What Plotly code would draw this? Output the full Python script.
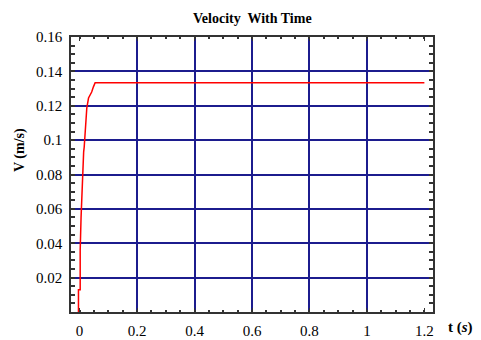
import plotly.graph_objects as go

# Data
t_vals = [-0.004, -0.004, 0.002, 0.002, 0.005, 0.008, 0.011, 0.014, 0.016, 0.019,
          0.023, 0.025, 0.031, 0.036, 0.042, 0.048, 0.054, 0.07, 0.1, 0.2, 0.4,
          0.6, 0.8, 1.0, 1.2]
v_vals = [0.0, 0.013, 0.013, 0.036, 0.055, 0.072, 0.0886, 0.093, 0.096, 0.104,
          0.112, 0.1187, 0.1245, 0.126, 0.128, 0.131, 0.1334, 0.1334, 0.1334, 0.1334,
          0.1334, 0.1334, 0.1334, 0.1334, 0.1334]

x_ticks = [0, 0.2, 0.4, 0.6, 0.8, 1.0, 1.2]
x_tick_text = ["0", "0.2", "0.4", "0.6", "0.8", "1", "1.2"]
x_grid = [0.2, 0.4, 0.6, 0.8, 1.0]
y_ticks = [0.02, 0.04, 0.06, 0.08, 0.1, 0.12, 0.14, 0.16]
y_tick_text = ["0.02", "0.04", "0.06", "0.08", "0.1", "0.12", "0.14", "0.16"]

title_text = "Velocity  With Time"
y_title = "V (m/s)"
x_title = "t (<i>s</i>)"

FONT = "Liberation Serif"
GRID = "#1c1c8e"
X_RANGE = [-0.03, 1.23]
Y_RANGE = [0, 0.16]

fig = go.Figure()
fig.add_trace(go.Scatter(x=t_vals, y=v_vals, mode="lines",
                         line=dict(color="#ff0000", width=1.5),
                         showlegend=False, hoverinfo="skip"))
# invisible trace on overlay axis to hold grid
fig.add_trace(go.Scatter(x=[None], y=[None], xaxis="x2", showlegend=False))

fig.update_layout(
    width=481, height=340,
    margin=dict(l=71, r=48, t=37, b=28, autoexpand=False),
    paper_bgcolor="white", plot_bgcolor="white",
    font=dict(family=FONT, size=15, color="black"),
    xaxis=dict(range=X_RANGE, tickvals=x_ticks, ticktext=x_tick_text,
               showgrid=False, zeroline=False, automargin=False,
               showline=True, linecolor="#333333", linewidth=1.5, mirror="allticks",
               ticks="inside", ticklen=4, tickcolor="#333333", tickwidth=1,
               minor=dict(dtick=0.05, tick0=0, ticks="inside", ticklen=2.5,
                          tickcolor="#333333", tickwidth=1.5, showgrid=False),
               tickfont=dict(family=FONT, size=15), layer="above traces",
               ticklabelstandoff=4),
    xaxis2=dict(range=X_RANGE, overlaying="x", tickvals=x_grid, showgrid=True,
                gridcolor=GRID, gridwidth=1.5, showticklabels=False, ticks="",
                zeroline=False, showline=False, layer="below traces", automargin=False),
    yaxis=dict(range=Y_RANGE, tickvals=y_ticks, ticktext=y_tick_text,
               showgrid=True, gridcolor=GRID, gridwidth=1.5, zeroline=False,
               automargin=False,
               showline=True, linecolor="#333333", linewidth=1.5, mirror="allticks",
               ticks="inside", ticklen=4, tickcolor="#333333", tickwidth=1,
               minor=dict(dtick=0.005, tick0=0, ticks="inside", ticklen=2.5,
                          tickcolor="#333333", tickwidth=1.5, showgrid=False),
               tickfont=dict(family=FONT, size=15), layer="above traces",
               ticklabelstandoff=4),
    annotations=[
        dict(text="<b>" + title_text + "</b>", x=0.5, y=1.069, xref="paper", yref="paper",
             xanchor="center", yanchor="middle",
             showarrow=False, font=dict(family=FONT, size=14)),
        dict(text="<b>" + y_title + "</b>", textangle=-90, x=-0.141, y=0.589,
             xanchor="center", yanchor="middle",
             xref="paper", yref="paper", showarrow=False, font=dict(family=FONT, size=14)),
        dict(text="<b>" + x_title + "</b>", x=1.075, y=-0.058, xref="paper", yref="paper",
             xanchor="center", yanchor="middle",
             showarrow=False, font=dict(family=FONT, size=15)),
    ],
)

fig.write_html("out.html", config={"displayModeBar": False},
               post_script="document.body.style.margin='0';document.body.style.overflow='hidden';")
